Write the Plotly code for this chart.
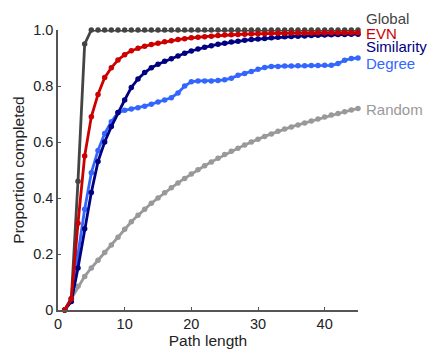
import plotly.graph_objects as go

path_length = list(range(1, 46))

global_vals = [0, 0.04, 0.46, 0.95] + [1.0] * 41

evn_vals = [0, 0.04, 0.31, 0.55, 0.69, 0.77, 0.83, 0.865, 0.893, 0.912,
            0.926, 0.935, 0.942, 0.948, 0.953, 0.958, 0.962, 0.966, 0.969, 0.972,
            0.974, 0.976, 0.978, 0.980, 0.982, 0.983, 0.984, 0.985, 0.986, 0.987,
            0.987, 0.988, 0.988, 0.988, 0.989, 0.989, 0.989, 0.989, 0.990, 0.990,
            0.990, 0.990, 0.990, 0.990, 0.990]

similarity_vals = [0, 0.03, 0.15, 0.29, 0.42, 0.53, 0.60, 0.655, 0.705, 0.75,
                   0.795, 0.825, 0.848, 0.865, 0.878, 0.888, 0.897, 0.907, 0.917, 0.925,
                   0.932, 0.938, 0.944, 0.949, 0.953, 0.957, 0.960, 0.963, 0.966, 0.968,
                   0.970, 0.972, 0.974, 0.976, 0.977, 0.978, 0.979, 0.980, 0.981, 0.982,
                   0.983, 0.984, 0.984, 0.985, 0.985]

degree_vals = [0, 0.04, 0.20, 0.36, 0.49, 0.57, 0.63, 0.672, 0.705, 0.713,
               0.718, 0.722, 0.728, 0.735, 0.743, 0.750, 0.758, 0.775, 0.800, 0.815,
               0.818, 0.818, 0.818, 0.820, 0.822, 0.828, 0.838, 0.845, 0.852, 0.860,
               0.866, 0.870, 0.870, 0.871, 0.871, 0.872, 0.872, 0.873, 0.873, 0.874,
               0.874, 0.880, 0.892, 0.898, 0.900]

random_vals = [0, 0.04, 0.085, 0.12, 0.15, 0.178, 0.205, 0.232, 0.260, 0.288,
               0.315, 0.338, 0.360, 0.381, 0.400, 0.419, 0.437, 0.454, 0.470, 0.486,
               0.501, 0.515, 0.529, 0.542, 0.555, 0.567, 0.578, 0.589, 0.600, 0.610,
               0.620, 0.629, 0.638, 0.646, 0.654, 0.661, 0.668, 0.675, 0.682, 0.689,
               0.696, 0.702, 0.708, 0.714, 0.720]

series_names = ["Global", "EVN", "Similarity", "Degree", "Random"]
series_colors = ["#444444", "#cc0000", "#000080", "#3366ff", "#999999"]
label_y = [1.042, 0.988, 0.94, 0.882, 0.717]
label_x = 1.023

x_ticks = [0, 10, 20, 30, 40]
y_ticks = [0, 0.2, 0.4, 0.6, 0.8, 1.0]
y_tick_text = ["0", "0.2", "0.4", "0.6", "0.8", "1.0"]

data = {
    "Global": global_vals,
    "EVN": evn_vals,
    "Similarity": similarity_vals,
    "Degree": degree_vals,
    "Random": random_vals,
}

FONT = "Liberation Sans, Arial, sans-serif"

fig = go.Figure()
draw_order = ["Random", "Degree", "Similarity", "Global", "EVN"]
for name in draw_order:
    c = series_colors[series_names.index(name)]
    fig.add_trace(go.Scatter(
        x=path_length, y=data[name], mode="lines+markers",
        line=dict(color=c, width=2.8),
        marker=dict(color=c, size=5.5),
        cliponaxis=False, showlegend=False,
    ))

for name, c, ly in zip(series_names, series_colors, label_y):
    fig.add_annotation(
        x=label_x, y=ly, xref="paper", yref="paper", text=name, showarrow=False,
        xanchor="left", yanchor="middle", borderpad=0,
        font=dict(color=c, size=15, family=FONT),
    )

axis_common = dict(
    showgrid=False, zeroline=False, showline=True, linecolor="#555555", linewidth=1.5,
    ticks="inside", ticklen=3, tickwidth=1, tickcolor="#555555", automargin=False,
    tickfont=dict(size=14.5, color="#222222", family=FONT),
)

fig.update_xaxes(range=[0, 45], tickvals=x_ticks,
                 title=dict(text="Path length", standoff=2,
                            font=dict(size=15.5, color="#222222", family=FONT)),
                 **axis_common)
fig.update_yaxes(range=[0, 1], tickvals=y_ticks, ticktext=y_tick_text,
                 title=dict(text="Proportion completed", standoff=5,
                            font=dict(size=15.5, color="#222222", family=FONT)),
                 **axis_common)

fig.update_layout(
    width=433, height=349,
    margin=dict(l=58, r=75, t=30, b=39),
    plot_bgcolor="white", paper_bgcolor="white",
)

fig.write_html("out.html", config={"displayModeBar": False},
               post_script="document.body.style.margin='0';")
